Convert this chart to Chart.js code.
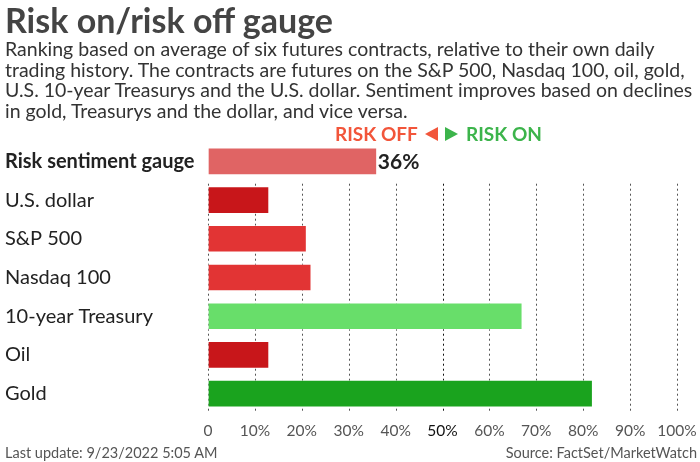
<!DOCTYPE html>
<html>
<head>
<meta charset="utf-8">
<script src="https://cdn.jsdelivr.net/npm/chart.js@4"></script>
<style>
  html, body { margin: 0; padding: 0; background: #fff; }
  body { width: 700px; height: 462px; position: relative; overflow: hidden; font-family: Lato, "Open Sans", sans-serif; }
  #wrap { position: absolute; left: 0; top: 0; width: 700px; height: 462px; }
  .title { position: absolute; left: 5px; top: 0px; font-size: 34px; line-height: 40px; font-weight: 700; color: #444; }
  .sub { position: absolute; left: 5px; top: 39px; font-size: 19.5px; line-height: 20.7px; color: #333; white-space: nowrap; }
  .legend { position: absolute; top: 122px; font-size: 19px; font-weight: 700; white-space: nowrap; }
  .off { color: #f2553a; }
  .on { color: #3cb44b; }
  .tri { position: absolute; top: 127px; width: 0; height: 0; border-top: 7px solid transparent; border-bottom: 7px solid transparent; }
  .foot { position: absolute; top: 444px; font-size: 14.5px; color: #555; }
</style>
</head>
<body>
<div id="wrap"><canvas id="chart" width="700" height="462"></canvas></div>
<div class="title">Risk on/risk off gauge</div>
<div class="sub">Ranking based on average of six futures contracts, relative to their own daily<br>trading history. The contracts are futures on the S&amp;P 500, Nasdaq 100, oil, gold,<br>U.S. 10-year Treasurys and the U.S. dollar. Sentiment improves based on declines<br>in gold, Treasurys and the dollar, and vice versa.</div>
<div class="legend off" style="left:335px">RISK OFF</div>
<div class="tri" style="left:425px; border-right:13px solid #f2553a"></div>
<div class="tri" style="left:445px; border-left:13px solid #3cb44b"></div>
<div class="legend on" style="left:466px">RISK ON</div>
<div class="foot" style="left:5px">Last update: 9/23/2022 5:05 AM</div>
<div class="foot" style="right:3px">Source: FactSet/MarketWatch</div>
<script>
const categories = ["Risk sentiment gauge", "U.S. dollar", "S&P 500", "Nasdaq 100", "10-year Treasury", "Oil", "Gold"];
const values = [36, 13, 21, 22, 67, 13, 82];
const barColors = ["#e06464", "#c8161a", "#e23434", "#e23434", "#68de6a", "#c8161a", "#1aa31e"];
const tickValues = [0, 10, 20, 30, 40, 50, 60, 70, 80, 90, 100];

// dotted grid lines, only under the first (gauge) row
const rowGrid = {
  id: "rowGrid",
  beforeDatasetsDraw(chart) {
    const { ctx, chartArea, scales } = chart;
    const top = (scales.y.getPixelForTick(0) + scales.y.getPixelForTick(1)) / 2 + 3;
    ctx.save();
    ctx.setLineDash([2, 3]);
    ctx.lineWidth = 1;
    tickValues.forEach(v => {
      const x = Math.round(scales.x.getPixelForValue(v)) + 0.5;
      ctx.strokeStyle = v === 50 ? "#111" : "#555";
      ctx.beginPath();
      ctx.moveTo(x, top);
      ctx.lineTo(x, chartArea.bottom);
      ctx.stroke();
    });
    ctx.restore();
  }
};

// value label for the gauge bar
const gaugeLabel = {
  id: "gaugeLabel",
  afterDatasetsDraw(chart) {
    const { ctx } = chart;
    const bar = chart.getDatasetMeta(0).data[0];
    ctx.save();
    ctx.font = "700 21px Lato";
    ctx.fillStyle = "#222";
    ctx.textBaseline = "middle";
    ctx.fillText(values[0] + "%", bar.x + 1, bar.y + 1);
    ctx.restore();
  }
};

new Chart(document.getElementById("chart"), {
  type: "bar",
  data: {
    labels: categories,
    datasets: [{
      data: values,
      backgroundColor: barColors,
      borderColor: "rgba(255,255,255,0.35)",
      borderWidth: 1,
      borderSkipped: false,
      barThickness: 27
    }]
  },
  options: {
    indexAxis: "y",
    responsive: false,
    animation: false,
    devicePixelRatio: 1,
    layout: { padding: { left: 5, right: 23, top: 142, bottom: 21 } },
    plugins: { legend: { display: false }, tooltip: { enabled: false } },
    scales: {
      x: {
        min: 0,
        max: 100,
        afterBuildTicks: s => { s.ticks = tickValues.map(v => ({ value: v })); },
        afterFit: s => { s.height = 28; s.paddingLeft = 0; s.paddingRight = 0; },
        grid: { display: false, drawTicks: false },
        border: { display: false },
        ticks: {
          padding: 9,
          autoSkip: false,
          maxRotation: 0,
          callback: v => v === 0 ? "0" : v + "%",
          color: ctx => ctx.tick && ctx.tick.value === 50 ? "#111" : "#555",
          font: { family: "Lato", size: 15.5 }
        }
      },
      y: {
        afterFit: s => { s.width = 203; },
        grid: { display: false, drawTicks: false },
        border: { display: false },
        ticks: {
          crossAlign: "far",
          padding: 0,
          color: "#222",
          font: ctx => ({ family: "Lato", size: 20, weight: ctx.index === 0 ? "700" : "400" })
        }
      }
    }
  },
  plugins: [rowGrid, gaugeLabel]
});
</script>
</body>
</html>
